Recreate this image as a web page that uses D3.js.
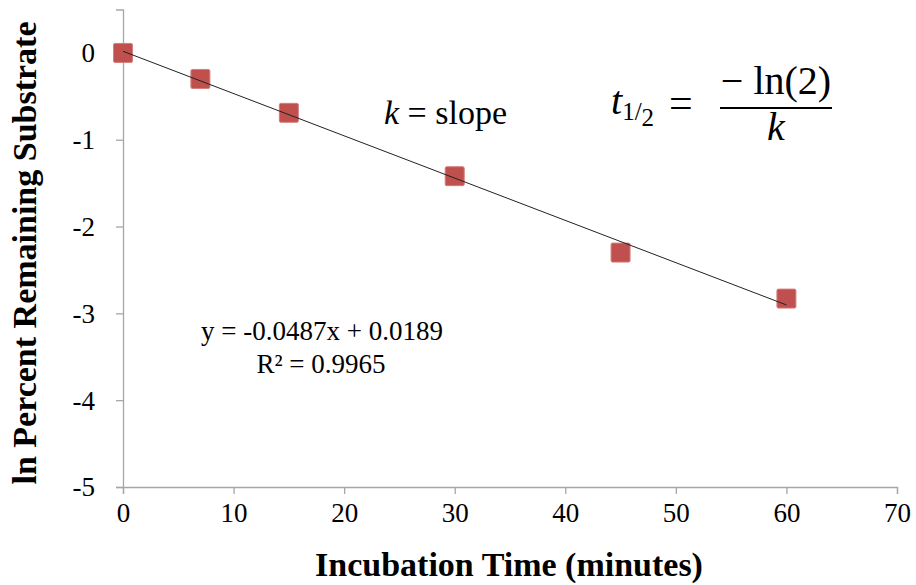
<!DOCTYPE html>
<html><head><meta charset="utf-8">
<script src="https://cdn.jsdelivr.net/npm/d3@7"></script>
<style>body{margin:0;background:#fff}svg{display:block}text{font-family:"Liberation Serif","Times New Roman",serif}</style>
</head><body><svg id="c" width="916" height="585"></svg>
<script>
const times = [0, 7, 15, 30, 45, 60];
const lnRemaining = [0, -0.30, -0.69, -1.42, -2.30, -2.83];
const xTicks = [0, 10, 20, 30, 40, 50, 60, 70];
const yTicks = [0, -1, -2, -3, -4, -5];
const slope = -0.0487, intercept = 0.0189, r2 = 0.9965;

const svg = d3.select("#c");
const x = d3.scaleLinear().domain([0, 70]).range([123, 897]);
const y = d3.scaleLinear().domain([-5, 0.5]).range([487, 9.5]);
const axisColor = "#a6a6a6";

const gx = svg.append("g").attr("transform", "translate(0,487)")
  .call(d3.axisBottom(x).tickValues(xTicks).tickSize(7).tickPadding(9).tickFormat(d3.format("d")));
const gy = svg.append("g").attr("transform", "translate(123,0)")
  .call(d3.axisLeft(y).tickValues(yTicks).tickSize(7).tickPadding(21).tickFormat(d => d3.format("d")(d).replace("−","-")));
[gx, gy].forEach(g => {
  g.select(".domain").attr("stroke", axisColor).attr("stroke-width", 1.3);
  g.selectAll(".tick line").attr("stroke", axisColor).attr("stroke-width", 1.3);
  g.selectAll(".tick text").attr("fill", "#000").style("font-size", "27px").style("font-family", "Liberation Serif");
});
gx.selectAll(".tick text").attr("dy", "0.72em");
gy.selectAll(".tick text").attr("dy", "0.33em");

// markers
const s = 19;
svg.selectAll("rect.pt").data(times).enter().append("rect").attr("class", "pt")
  .attr("x", (d) => x(d) - s / 2).attr("y", (d, i) => y(lnRemaining[i]) - s / 2)
  .attr("width", s).attr("height", s).attr("rx", 1.5)
  .attr("fill", "#c0504d").attr("stroke", "#d47f7d").attr("stroke-width", 1);
// trendline drawn over markers as in reference
svg.append("line")
  .attr("x1", x(0)).attr("y1", y(intercept))
  .attr("x2", x(60)).attr("y2", y(slope * 60 + intercept))
  .attr("stroke", "#222").attr("stroke-width", 1);

// equation
svg.append("text").attr("x", 322).attr("y", 340).attr("text-anchor", "middle")
  .style("font-size", "27px").text(`y = ${slope}x + ${intercept}`);
svg.append("text").attr("x", 321).attr("y", 373).attr("text-anchor", "middle")
  .style("font-size", "27px").text(`R² = ${r2}`);

// k = slope
const kt = svg.append("text").attr("x", 384).attr("y", 124).style("font-size", "34px");
kt.append("tspan").style("font-style", "italic").text("k");
kt.append("tspan").text(" = slope");

// half-life formula
const f = svg.append("g");
const ft = f.append("text").attr("x", 611).attr("y", 114).style("font-size", "40px");
ft.append("tspan").style("font-style", "italic").text("t");
ft.append("tspan").attr("dy", 6).style("font-size", "25px").text("1");
ft.append("tspan").attr("dy", 0).style("font-size", "25px").text("/");
ft.append("tspan").attr("dy", 6).style("font-size", "25px").text("2");
f.append("text").attr("x", 669).attr("y", 117).style("font-size", "42px").text("=");
f.append("line").attr("x1", 720).attr("x2", 832).attr("y1", 108).attr("y2", 108).attr("stroke", "#000").attr("stroke-width", 2);
f.append("text").attr("x", 776).attr("y", 94).attr("text-anchor", "middle").style("font-size", "40px").text("− ln(2)");
f.append("text").attr("x", 776).attr("y", 140).attr("text-anchor", "middle").style("font-size", "40px").style("font-style", "italic").text("k");

// axis titles
svg.append("text").attr("x", 509).attr("y", 576).attr("text-anchor", "middle")
  .style("font-size", "34px").style("font-weight", "bold").text("Incubation Time (minutes)");
svg.append("text").attr("transform", "translate(36,253) rotate(-90)").attr("text-anchor", "middle")
  .style("font-size", "34px").style("font-weight", "bold").text("ln Percent Remaining Substrate");
</script></body></html>
